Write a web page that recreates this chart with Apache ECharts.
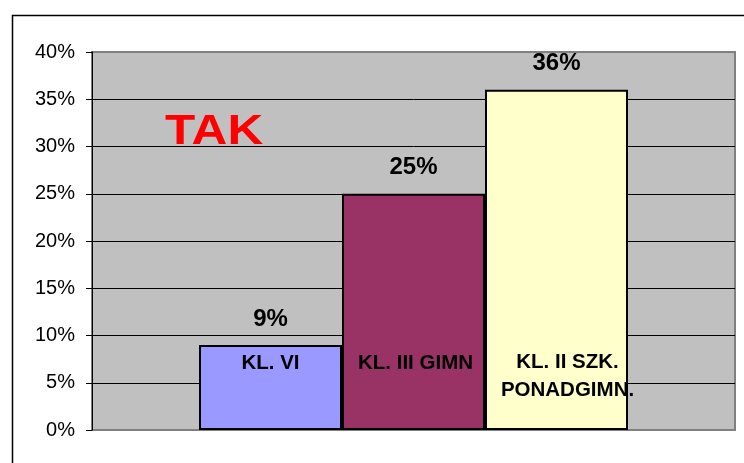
<!DOCTYPE html>
<html><head><meta charset="utf-8">
<script src="https://cdn.jsdelivr.net/npm/echarts@6/dist/echarts.min.js"></script>
<style>html,body{margin:0;padding:0;background:#fff}#c{width:744px;height:463px}</style>
</head><body><div id="c"></div>
<script>
const categories = [''];
const seriesNames = ['KL. VI', 'KL. III GIMN', 'KL. II SZK.\nPONADGIMN.'];
const seriesValues = [[9], [25], [36]];
const yTicks = [0, 5, 10, 15, 20, 25, 30, 35, 40];
const colors = ['#9999FF', '#993366', '#FFFFCC'];
const nameOffsets = [[0, -67], [2, -67], [11, -54]];

const chart = echarts.init(document.getElementById('c'), null, {renderer: 'canvas'});
const series = seriesValues.map((vals, i) => ({
  type: 'bar',
  name: seriesNames[i],
  data: vals,
  barWidth: 143,
  barGap: '0%',
  itemStyle: {color: colors[i], borderColor: '#000', borderWidth: 2},
  label: {show: true, position: 'top', distance: 14, formatter: '{c}%',
    fontFamily: 'Liberation Sans, Arial', fontWeight: 'bold', fontSize: 24, color: '#000'},
  markPoint: {
    symbol: 'rect', symbolSize: 1, itemStyle: {color: 'rgba(0,0,0,0)'},
    silent: true,
    data: [{coord: [0, 0], value: 0}],
    label: {show: true, position: 'inside', offset: nameOffsets[i], formatter: seriesNames[i],
      fontFamily: 'Liberation Sans, Arial', fontWeight: 'bold', fontSize: 20.5, lineHeight: 28,
      color: '#000', align: 'center'}
  }
}));

chart.setOption({
  animation: false,
  backgroundColor: '#fff',
  grid: {left: 92, right: 9, top: 52, bottom: 33, show: true, backgroundColor: '#C0C0C0',
    borderColor: '#808080', borderWidth: 2},
  xAxis: {type: 'category', data: categories, axisLine: {show: false}, axisTick: {show: false},
    axisLabel: {show: false}, splitLine: {show: false}},
  yAxis: {type: 'value', min: yTicks[0], max: yTicks[yTicks.length - 1], interval: 5,
    axisLine: {show: true, lineStyle: {color: '#000', width: 1}},
    axisTick: {show: true, length: 6, lineStyle: {color: '#000'}},
    axisLabel: {formatter: '{value}%', fontFamily: 'Liberation Sans, Arial', fontSize: 20, color: '#000', margin: 17},
    splitLine: {show: true, lineStyle: {color: ['#808080', '#000', '#000', '#000', '#000', '#000', '#000', '#000', '#808080'], width: 1}}},
  graphic: [
    {type: 'rect', left: 10, top: 13, shape: {x: 0.5, y: 0.5, width: 800, height: 500},
      style: {fill: 'none', stroke: '#000', lineWidth: 1.5}, silent: true, z: 100},
    {type: 'text', x: 165, y: 111, scaleX: 1.18, style: {text: 'TAK', fill: '#FF0000',
      font: 'bold 42px "Liberation Sans", Arial'}, z: 100}
  ],
  series: series
});
</script></body></html>
